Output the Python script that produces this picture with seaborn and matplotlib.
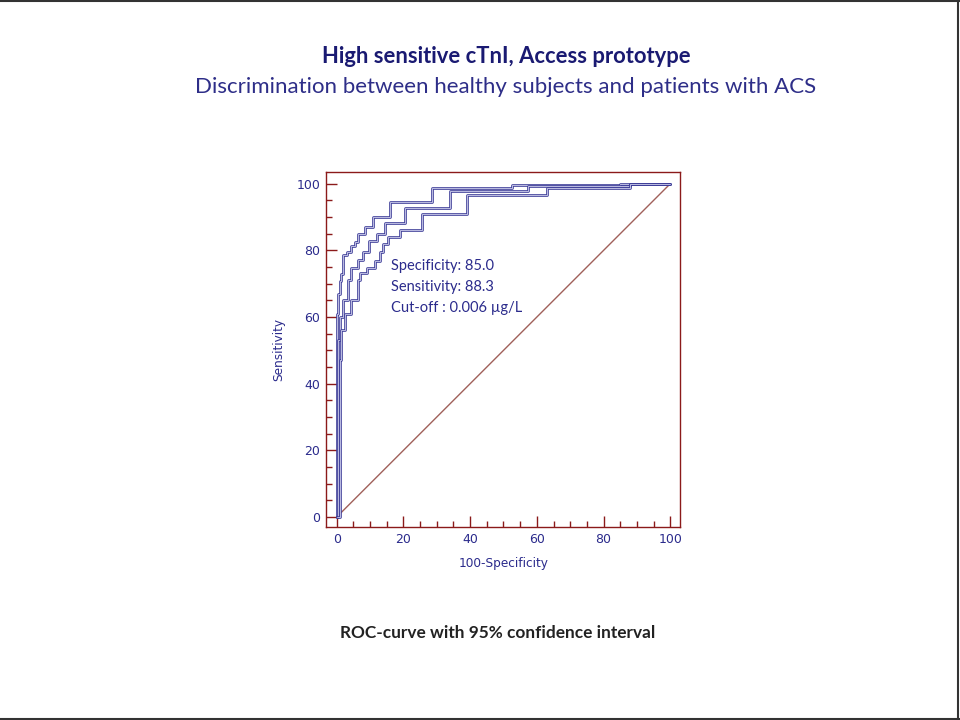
import pandas as pd
import matplotlib.pyplot as plt
from matplotlib.ticker import MultipleLocator
from matplotlib.lines import Line2D
import seaborn as sns

# ROC curve + 95% CI, step corners (100-Specificity, Sensitivity)
roc_x = [0, 0.4, 0.9, 1.9, 3.4, 4.2, 6.4, 7.9, 9.6, 12, 14.5, 20.5, 34, 57.5, 88, 100]
roc_y = [0, 53, 60, 65, 71, 74.7, 77.2, 79.5, 82.7, 84.9, 88.2, 92.7, 97.7, 99.2, 100, 100]

upper_x = [0, 0, 0.4, 0.9, 1.4, 1.9, 3.2, 4.4, 5.4, 6.4, 8.6, 10.8, 16, 28.6, 52.6, 85, 100]
upper_y = [0, 61, 67, 70.7, 73, 78.5, 79.5, 81.2, 82.5, 84.9, 87, 90, 94.4, 98.8, 99.7, 100, 100]

lower_x = [0, 0.9, 1.4, 2.4, 4.4, 6.4, 7, 9, 11.4, 13, 14, 15.5, 19, 25.5, 39, 63, 88, 100]
lower_y = [0, 47, 56, 61, 65, 71, 73.2, 74.7, 76.7, 79.5, 82, 83.9, 86, 91, 96.5, 98.8, 100, 100]

diag_x = [0, 100]
diag_y = [0, 100]

title = "High sensitive cTnI, Access prototype"
subtitle = "Discrimination between healthy subjects and patients with ACS"
caption = "ROC-curve with 95% confidence interval"
note_lines = ["Specificity: 85.0", "Sensitivity: 88.3", "Cut-off : 0.006 µg/L"]

sns.set_style("white")
plt.rcParams['font.family'] = ['DejaVu Sans']

navy = "#2B2B8C"
maroon = "#8B1A1A"

curves = pd.concat([
    pd.DataFrame({"x": upper_x, "y": upper_y, "curve": "upper"}),
    pd.DataFrame({"x": roc_x, "y": roc_y, "curve": "roc"}),
    pd.DataFrame({"x": lower_x, "y": lower_y, "curve": "lower"}),
])

fig = plt.figure(figsize=(9.6, 7.2), dpi=100)
ax = fig.add_axes([0.3396, 0.268, 0.369, 0.493])

# diagonal reference line
sns.lineplot(x=diag_x, y=diag_y, ax=ax, color="#A0605A", linewidth=1.0)

# curves: thin dark outline with a light core, like the scanned look
for name, grp in curves.groupby("curve", sort=False):
    sns.lineplot(data=grp, x="x", y="y", ax=ax, estimator=None, sort=False,
                 drawstyle="steps-post", color="#3E3E98", linewidth=1.9)
    sns.lineplot(data=grp, x="x", y="y", ax=ax, estimator=None, sort=False,
                 drawstyle="steps-post", color="#BDBDE3", linewidth=0.7)

ax.set_xlim(-3.2, 103)
ax.set_ylim(-3.0, 103.5)
ax.xaxis.set_major_locator(MultipleLocator(20))
ax.yaxis.set_major_locator(MultipleLocator(20))
ax.xaxis.set_minor_locator(MultipleLocator(5))
ax.yaxis.set_minor_locator(MultipleLocator(5))
ax.tick_params(which="both", direction="in", color=maroon, width=1.0,
               bottom=True, left=True, top=False, right=False)
ax.tick_params(which="major", length=8, labelsize=9, labelcolor=navy, pad=4)
ax.tick_params(which="minor", length=4.5)
for s in ax.spines.values():
    s.set_color(maroon)
    s.set_linewidth(1.0)

ax.set_xlabel("100-Specificity", fontsize=8.7, color=navy, labelpad=8)
ax.set_ylabel("Sensitivity", fontsize=8.7, color=navy, labelpad=8)

for i, line in enumerate(note_lines):
    ax.text(16.3, 75.4 - i * 6.4, line, fontsize=10.5, color=navy,
            family=["Lato", "DejaVu Sans"], va="center", ha="left")

fig.text(0.527, 0.921, title, fontsize=15.8, fontweight="bold", color="#1A1A72",
         family=["Lato", "DejaVu Sans"], ha="center", va="center")
fig.text(0.527, 0.879, subtitle, fontsize=16, color="#2E2E88",
         family=["Lato", "DejaVu Sans"], ha="center", va="center")
fig.text(0.518, 0.121, caption, fontsize=12.4, fontweight="bold", color="#222222",
         family=["Lato", "DejaVu Sans"], ha="center", va="center")

# slide border (top, right, bottom)
for xs, ys in [([0, 1], [0.999, 0.999]), ([0.998, 0.998], [0, 1]), ([0, 1], [0.002, 0.002])]:
    fig.add_artist(Line2D(xs, ys, transform=fig.transFigure, color="#333333", linewidth=1.5))

fig.savefig("out.png", dpi=100)
